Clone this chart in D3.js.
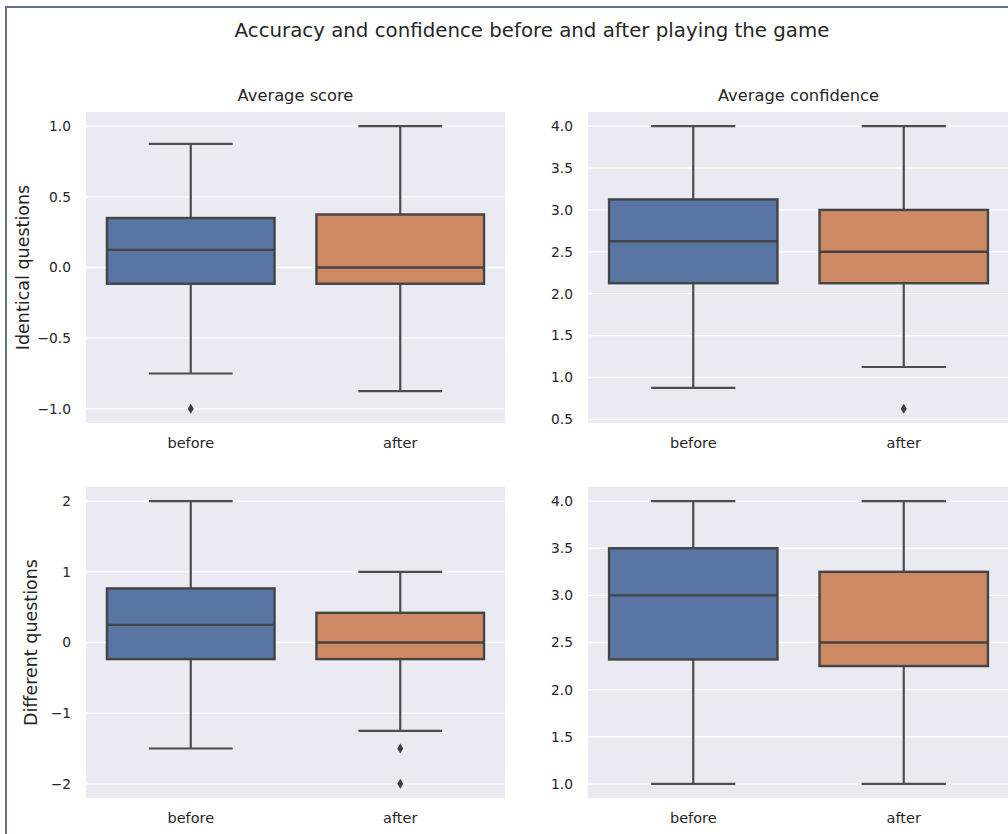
<!DOCTYPE html>
<html>
<head>
<meta charset="utf-8">
<script src="https://cdn.jsdelivr.net/npm/d3@7"></script>
<style>
  html, body { margin: 0; padding: 0; background: #fff; }
  svg { display: block; font-family: "DejaVu Sans", sans-serif; }
</style>
</head>
<body>
<svg id="chart" width="1008" height="834"></svg>
<script>
// groups on the x axis
const groups = ['before', 'after'];
const groupColors = ['#5875a4', '#cc8963'];

const colTitles = ['Average score', 'Average confidence'];
const rowTitles = ['Identical questions', 'Different questions'];

// box stats per panel: [whiskerLow, q1, median, q3, whiskerHigh]
const scoreIdentical = [
  [-0.75, -0.115, 0.125, 0.35, 0.875],
  [-0.875, -0.115, 0.0, 0.375, 1.0]
];
const scoreIdenticalOutliers = [[-1.0], []];

const confIdentical = [
  [0.875, 2.125, 2.625, 3.125, 4.0],
  [1.125, 2.125, 2.5, 3.0, 4.0]
];
const confIdenticalOutliers = [[], [0.625]];

const scoreDifferent = [
  [-1.5, -0.235, 0.25, 0.765, 2.0],
  [-1.25, -0.235, 0.0, 0.42, 1.0]
];
const scoreDifferentOutliers = [[], [-1.5, -2.0]];

const confDifferent = [
  [1.0, 2.32, 3.0, 3.5, 4.0],
  [1.0, 2.25, 2.5, 3.25, 4.0]
];
const confDifferentOutliers = [[], []];

const scoreTicks = [-1.0, -0.5, 0.0, 0.5, 1.0];
const confTicksTop = [0.5, 1.0, 1.5, 2.0, 2.5, 3.0, 3.5, 4.0];
const diffTicks = [-2, -1, 0, 1, 2];
const confTicksBottom = [1.0, 1.5, 2.0, 2.5, 3.0, 3.5, 4.0];

const svg = d3.select('#chart');

// Figure frame
svg.append('rect')
  .attr('x', 6).attr('y', 7)
  .attr('width', 1010).attr('height', 840)
  .attr('fill', 'none')
  .attr('stroke', '#607282')
  .attr('stroke-width', 2);

// Title
svg.append('text')
  .attr('x', 532).attr('y', 37)
  .attr('text-anchor', 'middle')
  .style('font-size', '19.8px')
  .style('fill', '#262626')
  .text('Accuracy and confidence before and after playing the game');

const colX = [86, 588];
const colW = [419, 421];
const rowY = [112, 487];
const panelH = 311;

const panels = [
  { r: 0, c: 0, stats: scoreIdentical, out: scoreIdenticalOutliers, ticks: scoreTicks, fmt: d3.format('.1f') },
  { r: 0, c: 1, stats: confIdentical, out: confIdenticalOutliers, ticks: confTicksTop, fmt: d3.format('.1f') },
  { r: 1, c: 0, stats: scoreDifferent, out: scoreDifferentOutliers, ticks: diffTicks, fmt: d3.format('d') },
  { r: 1, c: 1, stats: confDifferent, out: confDifferentOutliers, ticks: confTicksBottom, fmt: d3.format('.1f') }
];

const lineColor = '#4d4d4d';

panels.forEach(p => {
  const x0 = colX[p.c], y0 = rowY[p.r], w = colW[p.c];
  const g = svg.append('g').attr('transform', `translate(${x0},${y0})`);

  // matplotlib-like 5% margin around data
  const all = p.stats.flat().concat(p.out.flat());
  const lo = d3.min(all), hi = d3.max(all);
  const pad = (hi - lo) * 0.05;

  const y = d3.scaleLinear().domain([lo - pad, hi + pad]).range([panelH, 0]);
  const x = d3.scaleBand().domain(groups).range([0, w]).paddingInner(0.2).paddingOuter(0.1);

  g.append('rect')
    .attr('width', w).attr('height', panelH)
    .attr('fill', '#eaeaf2');

  // grid
  g.selectAll('.grid')
    .data(p.ticks)
    .enter().append('line')
    .attr('x1', 0).attr('x2', w)
    .attr('y1', d => y(d)).attr('y2', d => y(d))
    .attr('stroke', '#fff')
    .attr('stroke-width', 1.3);

  // y axis
  const yAxis = g.append('g')
    .call(d3.axisLeft(y).tickValues(p.ticks).tickSize(0).tickPadding(15)
      .tickFormat(d => p.fmt(d).replace('-', '\u2212')));
  yAxis.select('.domain').remove();
  yAxis.selectAll('text')
    .style('font-size', '13.8px')
    .style('font-family', '"DejaVu Sans", sans-serif')
    .style('fill', '#262626');

  // x axis
  const xAxis = g.append('g')
    .attr('transform', `translate(0,${panelH})`)
    .call(d3.axisBottom(x).tickSize(0).tickPadding(15));
  xAxis.select('.domain').remove();
  xAxis.selectAll('text')
    .style('font-size', '14.5px')
    .style('font-family', '"DejaVu Sans", sans-serif')
    .style('fill', '#262626');

  groups.forEach((grp, i) => {
    const [wl, q1, med, q3, wh] = p.stats[i];
    const bx = x(grp), bw = x.bandwidth(), cx = bx + bw / 2;
    const capW = bw / 2;

    // whiskers
    [[wl, q1], [q3, wh]].forEach(([a, b]) => {
      g.append('line')
        .attr('x1', cx).attr('x2', cx)
        .attr('y1', y(a)).attr('y2', y(b))
        .attr('stroke', lineColor).attr('stroke-width', 2.2);
    });
    [wl, wh].forEach(v => {
      g.append('line')
        .attr('x1', cx - capW / 2).attr('x2', cx + capW / 2)
        .attr('y1', y(v)).attr('y2', y(v))
        .attr('stroke', lineColor).attr('stroke-width', 2.2);
    });

    // box
    g.append('rect')
      .attr('x', bx).attr('width', bw)
      .attr('y', y(q3)).attr('height', y(q1) - y(q3))
      .attr('fill', groupColors[i])
      .attr('stroke', '#444')
      .attr('stroke-width', 2.4);

    // median
    g.append('line')
      .attr('x1', bx).attr('x2', bx + bw)
      .attr('y1', y(med)).attr('y2', y(med))
      .attr('stroke', '#444').attr('stroke-width', 2.4);

    // outliers as diamonds
    g.selectAll(null)
      .data(p.out[i])
      .enter().append('path')
      .attr('d', d => `M${cx},${y(d) - 5} L${cx + 3},${y(d)} L${cx},${y(d) + 5} L${cx - 3},${y(d)} Z`)
      .attr('fill', '#3d3d3d');
  });

  if (p.r === 0) {
    g.append('text')
      .attr('x', w / 2).attr('y', -11)
      .attr('text-anchor', 'middle')
      .style('font-size', '16.3px')
      .style('fill', '#262626')
      .text(colTitles[p.c]);
  }
  if (p.c === 0) {
    const lx = p.r === 0 ? -57 : -49;
    g.append('text')
      .attr('transform', `translate(${lx},${panelH / 2}) rotate(-90)`)
      .attr('text-anchor', 'middle')
      .style('font-size', '17.5px')
      .style('fill', '#262626')
      .text(rowTitles[p.r]);
  }
});
</script>
</body>
</html>
